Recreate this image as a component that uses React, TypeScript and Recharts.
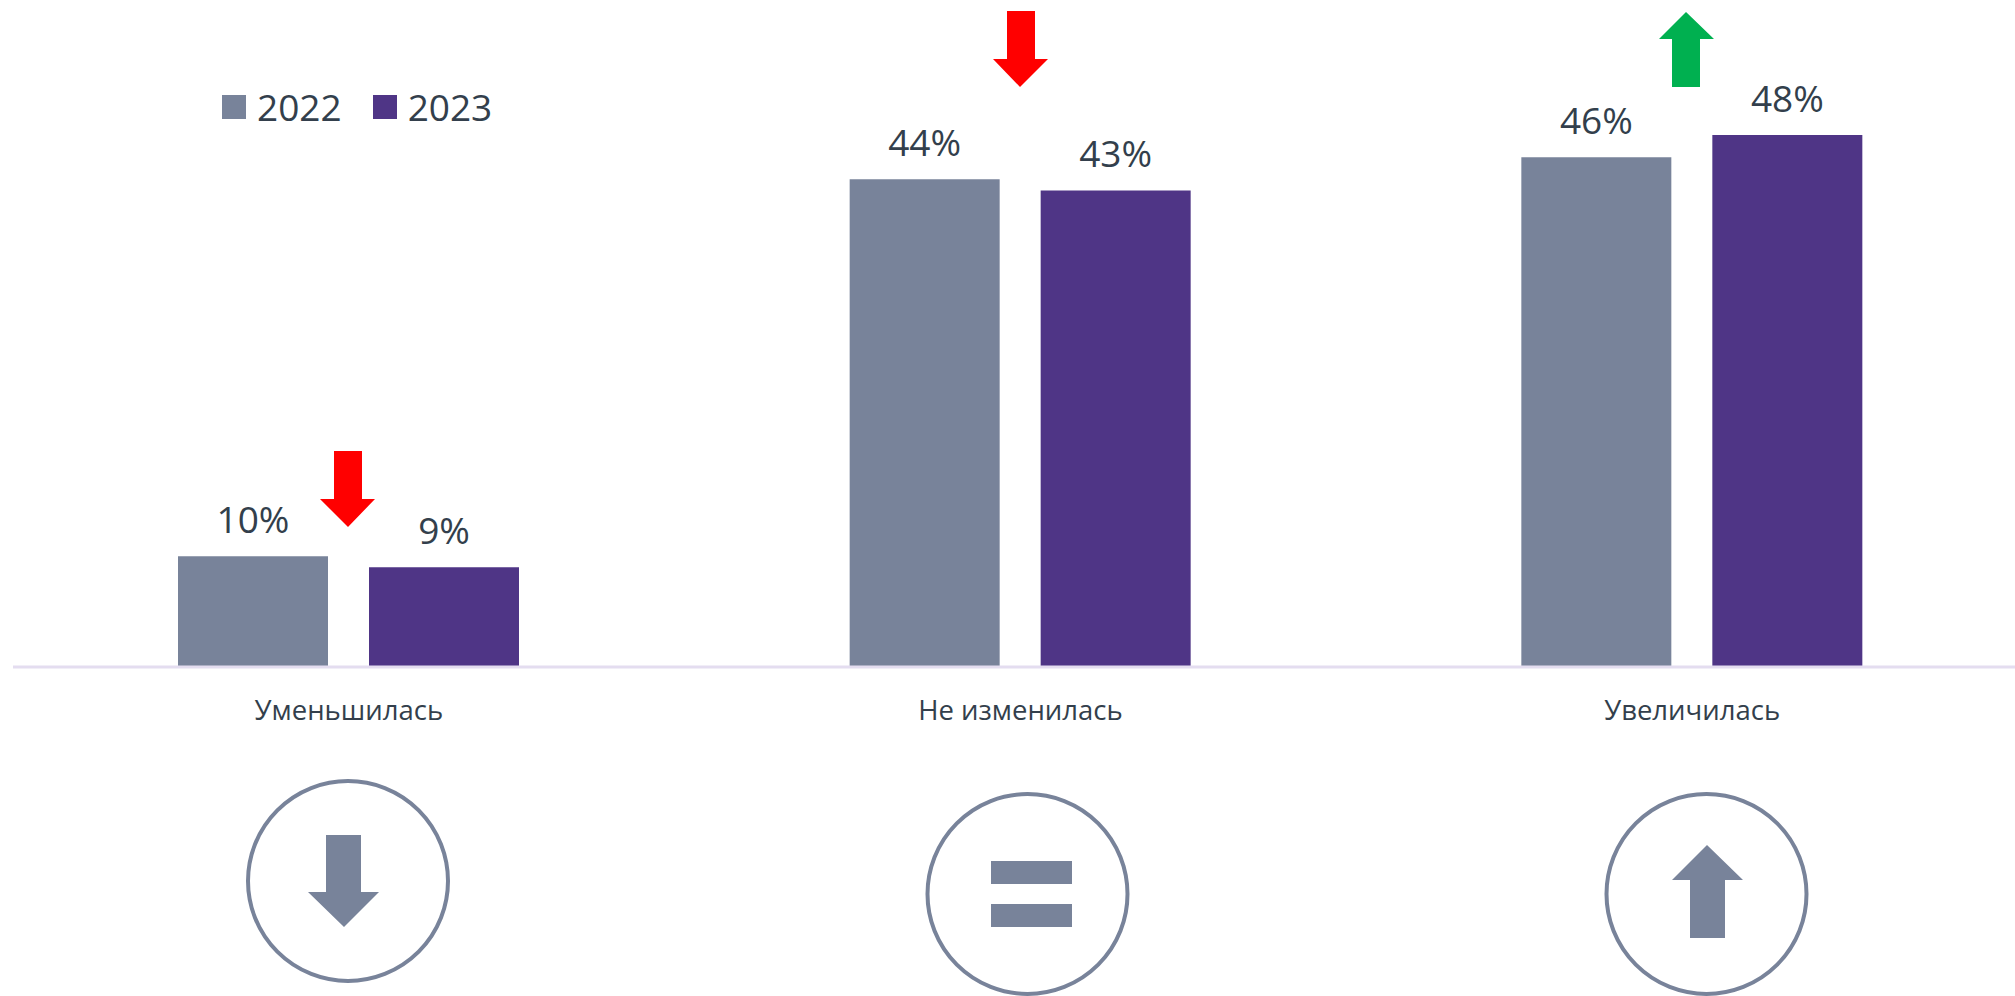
import { Bar, BarChart, LabelList, Legend, XAxis, YAxis } from "recharts";

const categories = ["Уменьшилась", "Не изменилась", "Увеличилась"];
const values2022 = [10, 44, 46];
const values2023 = [9, 43, 48];

const data = categories.map((name, i) => ({
  name,
  "2022": values2022[i],
  "2023": values2023[i],
}));

const GRAY = "#78839a";
const PURPLE = "#4f3586";
const TEXT = "#333f4c";
const FONT = "'Open Sans', sans-serif";

function LegendRow({ payload }: any) {
  return (
    <div style={{ display: "flex", alignItems: "center", fontFamily: FONT, fontSize: 37, color: TEXT }}>
      {(payload || []).map((p: any) => (
        <div key={p.value} style={{ display: "flex", alignItems: "center", marginRight: 31 }}>
          <span style={{ width: 24, height: 24, background: p.color, marginRight: 11 }} />
          <span>{p.value}</span>
        </div>
      ))}
    </div>
  );
}

// hand-drawn callouts that sit on top of the chart
function Overlay() {
  return (
    <svg width={2015} height={996} style={{ position: "absolute", left: 0, top: 0, pointerEvents: "none" }}>
      <polygon points="334,451 362,451 362,499 375,499 348,527 320,499 334,499" fill="#ff0000" />
      <polygon points="1007,11 1035,11 1035,59 1048,59 1020,87 993,59 1007,59" fill="#ff0000" />
      <polygon points="1686,12 1714,39 1700,39 1700,87 1672,87 1672,39 1659,39" fill="#00b050" />

      <circle cx={348} cy={881} r={100} fill="none" stroke={GRAY} strokeWidth={4} />
      <polygon points="326,835 361,835 361,892 379,892 344,927 308,892 326,892" fill={GRAY} />

      <circle cx={1027.5} cy={894} r={100} fill="none" stroke={GRAY} strokeWidth={4} />
      <rect x={991} y={861} width={81} height={23} fill={GRAY} />
      <rect x={991} y={904} width={81} height={23} fill={GRAY} />

      <circle cx={1706.5} cy={894} r={100} fill="none" stroke={GRAY} strokeWidth={4} />
      <polygon points="1707,845 1743,880 1725,880 1725,938 1690,938 1690,880 1672,880" fill={GRAY} />
    </svg>
  );
}

export default function App() {
  const labelStyle = { fontFamily: FONT, fontSize: 37, fill: TEXT };
  return (
    <div style={{ position: "absolute", left: 0, top: 0, width: 2015, height: 996, overflow: "hidden", background: "#fff" }}>
      <BarChart
        width={2028}
        height={996}
        data={data}
        barSize={150}
        barGap={41}
        margin={{ top: 2, right: 0, left: 13, bottom: 0 }}
      >
        <XAxis
          dataKey="name"
          interval={0}
          height={329}
          tickLine={false}
          axisLine={{ stroke: "#e4ddf0", strokeWidth: 3 }}
          tick={{ fontFamily: FONT, fontSize: 27.5, fill: TEXT, dy: 25 }}
        />
        <YAxis hide domain={[0, 60]} />
        {/* middle + center so the legend doesn't take space from the plot */}
        <Legend
          verticalAlign="middle"
          align="center"
          content={<LegendRow />}
          wrapperStyle={{ left: 222, top: 81, width: 400 }}
        />
        <Bar dataKey="2022" fill={GRAY} isAnimationActive={false}>
          <LabelList dataKey="2022" position="top" offset={23} formatter={(v: any) => `${v}%`} style={labelStyle} />
        </Bar>
        <Bar dataKey="2023" fill={PURPLE} isAnimationActive={false}>
          <LabelList dataKey="2023" position="top" offset={23} formatter={(v: any) => `${v}%`} style={labelStyle} />
        </Bar>
      </BarChart>
      <Overlay />
    </div>
  );
}
